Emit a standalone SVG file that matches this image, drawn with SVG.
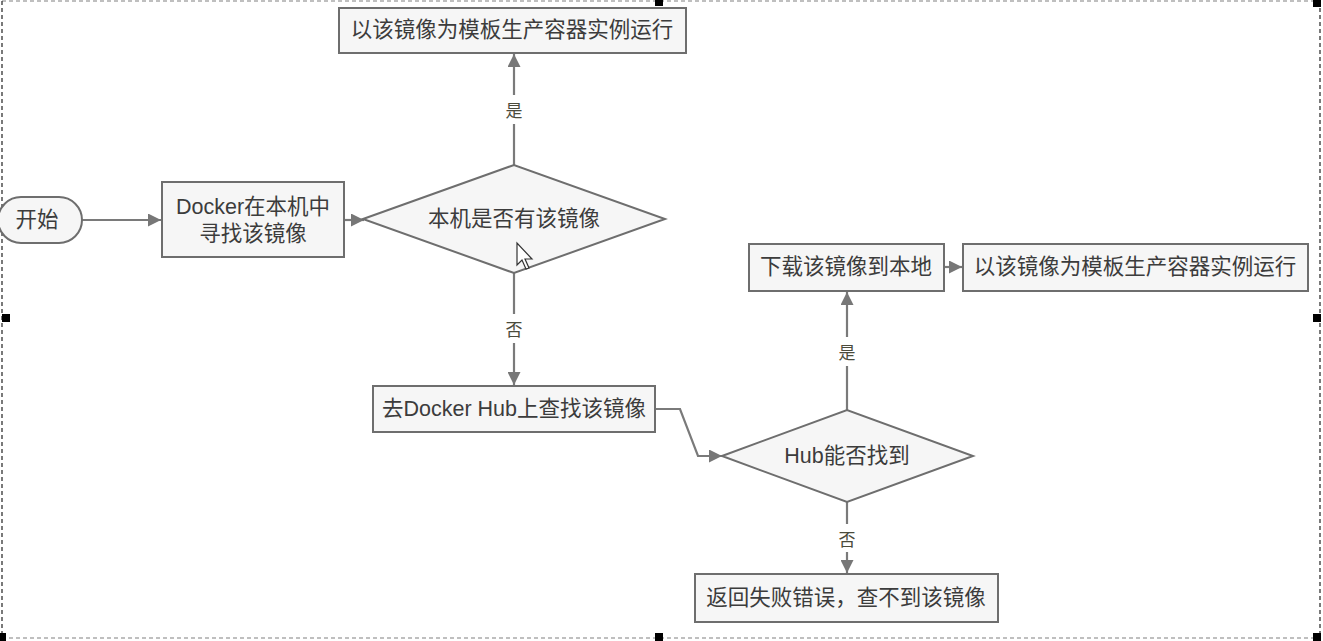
<svg xmlns="http://www.w3.org/2000/svg" width="1323" height="641" viewBox="0 0 1323 641">
<defs>
<marker id="arr" viewBox="0 0 10 10" refX="10" refY="5" markerWidth="14" markerHeight="13" markerUnits="userSpaceOnUse" orient="auto">
<path d="M0,0 L10,5 L0,10 z" fill="#777"/>
</marker>
<style>
.box{fill:#f6f6f6;stroke:#6e6e6e;stroke-width:2}
.t{font-family:"Liberation Sans","Noto Sans CJK SC",sans-serif;font-size:21.5px;fill:#3c3c3c;text-anchor:middle;dominant-baseline:central}
.lbl{font-family:"Noto Sans CJK SC",sans-serif;font-size:17px;fill:#4b4b3c;text-anchor:middle;dominant-baseline:central}
.c{fill:none;stroke:#7a7a7a;stroke-width:2.2}
.frame{fill:none;stroke:#333;stroke-width:1.3;stroke-dasharray:4 3}
.h{fill:#000}
</style>
</defs>
<rect width="1323" height="641" fill="#fff"/>
<g id="frame">
<line x1="2" y1="1" x2="1320" y2="1" stroke="#aaa" stroke-width="1.3" stroke-dasharray="4 3"/>
<line x1="2" y1="638" x2="1320" y2="638" stroke="#aaa" stroke-width="1.3" stroke-dasharray="4 3"/>
<line x1="2" y1="1" x2="2" y2="638" class="frame"/>
<line x1="1320" y1="1" x2="1320" y2="638" class="frame"/>
<rect class="h" x="655" y="0" width="8" height="6"/>
<rect class="h" x="1313" y="0" width="8" height="7"/>
<rect class="h" x="1313" y="314" width="8" height="8"/>
<rect class="h" x="1313" y="633" width="8" height="8"/>
<rect class="h" x="655" y="633" width="8" height="8"/>
<rect class="h" x="0" y="633" width="6" height="8"/>
<rect class="h" x="2" y="314" width="8" height="8"/>
</g>
<g id="connectors">
<line class="c" x1="82" y1="220" x2="161" y2="220" marker-end="url(#arr)"/>
<line class="c" x1="344" y1="220" x2="364" y2="220" marker-end="url(#arr)"/>
<line class="c" x1="514" y1="165" x2="514" y2="54" marker-end="url(#arr)"/>
<line class="c" x1="514" y1="273" x2="514" y2="385" marker-end="url(#arr)"/>
<polyline class="c" points="655,409 680,409 698,456 722,456" marker-end="url(#arr)"/>
<line class="c" x1="847" y1="410" x2="847" y2="292" marker-end="url(#arr)"/>
<line class="c" x1="944" y1="267" x2="962" y2="267" marker-end="url(#arr)"/>
<line class="c" x1="847" y1="502" x2="847" y2="573" marker-end="url(#arr)"/>
<rect x="500" y="95" width="28" height="29" fill="#fff"/>
<text class="lbl" x="514" y="109">是</text>
<rect x="500" y="314" width="28" height="29" fill="#fff"/>
<text class="lbl" x="514" y="328">否</text>
<rect x="833" y="337" width="28" height="29" fill="#fff"/>
<text class="lbl" x="847" y="351">是</text>
<rect x="833" y="524" width="28" height="28" fill="#fff"/>
<text class="lbl" x="847" y="538">否</text>
</g>
<g id="start">
<rect class="box" x="-2" y="197" width="84" height="46" rx="23"/>
<text class="t" x="37" y="220">开始</text>
</g>
<g id="search-local">
<rect class="box" x="162" y="182" width="182" height="75"/>
<text class="t" x="253" y="207">Docker在本机中</text>
<text class="t" x="253" y="234">寻找该镜像</text>
</g>
<g id="check-local">
<polygon class="box" points="363,219 514,165 665,219 514,273"/>
<text class="t" x="514" y="219">本机是否有该镜像</text>
</g>
<g id="run-local">
<rect class="box" x="339" y="8" width="347" height="45"/>
<text class="t" x="512" y="30">以该镜像为模板生产容器实例运行</text>
</g>
<g id="search-hub">
<rect class="box" x="373" y="386" width="282" height="46"/>
<text class="t" x="514" y="409">去Docker Hub上查找该镜像</text>
</g>
<g id="check-hub">
<polygon class="box" points="722,456 847,410 973,456 847,502"/>
<text class="t" x="847" y="456">Hub能否找到</text>
</g>
<g id="download">
<rect class="box" x="749" y="244" width="195" height="47"/>
<text class="t" x="846" y="267">下载该镜像到本地</text>
</g>
<g id="run-downloaded">
<rect class="box" x="963" y="244" width="345" height="47"/>
<text class="t" x="1135" y="267">以该镜像为模板生产容器实例运行</text>
</g>
<g id="fail">
<rect class="box" x="695" y="574" width="303" height="48"/>
<text class="t" x="846" y="598">返回失败错误，查不到该镜像</text>
</g>
<g id="cursor">
<path d="M517,243 L517,265 L522,260 L526,269 L529,268 L525,259 L532,259 z" fill="#fff" stroke="#333" stroke-width="1.2"/>
</g>
</svg>
